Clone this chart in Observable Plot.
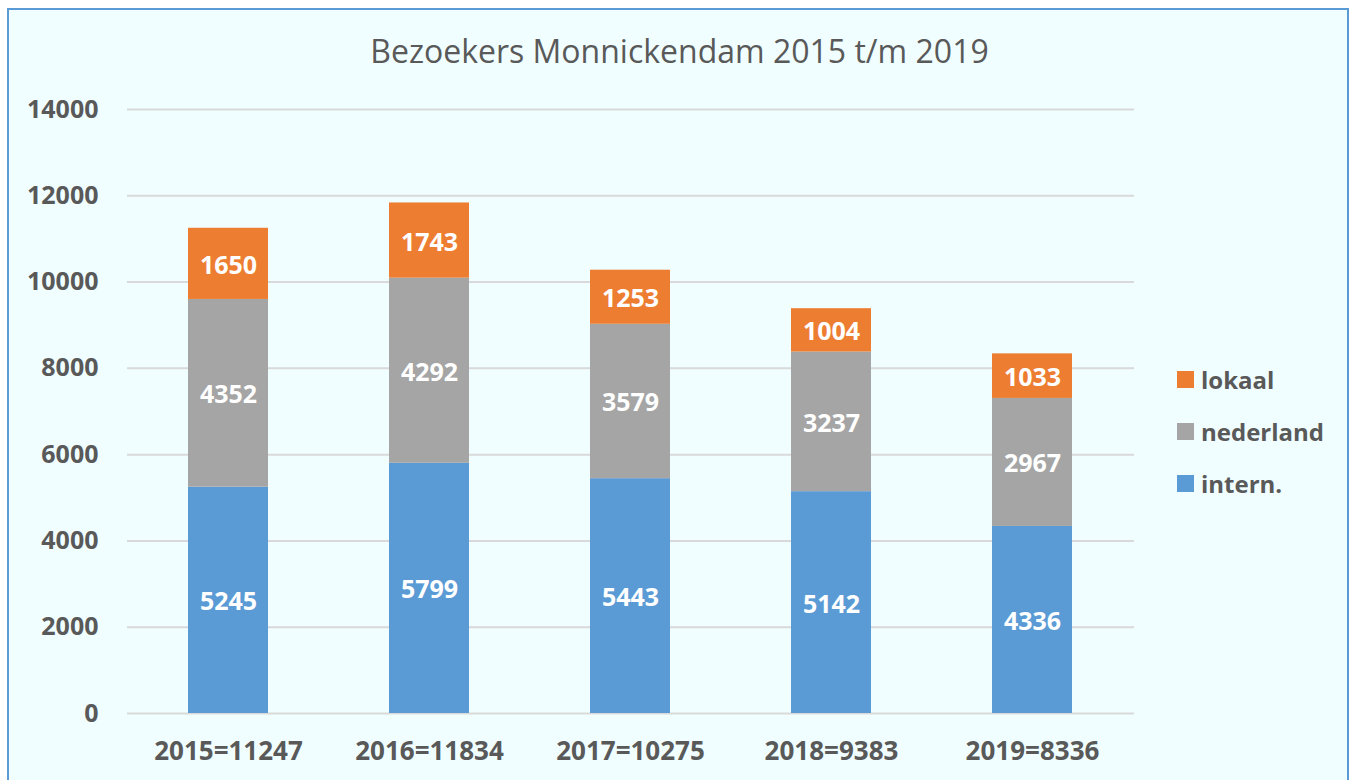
<!DOCTYPE html>
<html>
<head>
<meta charset="utf-8">
<script src="https://cdn.jsdelivr.net/npm/d3@7"></script>
<script src="https://cdn.jsdelivr.net/npm/@observablehq/plot@0.6"></script>
<style>
  html, body { margin: 0; padding: 0; background: #ffffff; width: 1354px; height: 780px; overflow: hidden; }
  #frame { position: absolute; left: 7px; top: 8px; width: 1342px; height: 800px;
           background: #f0feff; border: 2.5px solid #5b9bd5; box-sizing: border-box; }
  #title { position: absolute; left: 7px; width: 1345px; top: 29px; text-align: center;
           font-family: "Open Sans", sans-serif; font-size: 32px; color: #595959; line-height: 1.362; }
  #chart { position: absolute; left: 0; top: 0; }
  #legend { position: absolute; left: 1177px; top: 353px; font-family: "Open Sans", sans-serif;
            font-weight: bold; font-size: 24px; color: #595959; }
  .item { display: flex; align-items: center; height: 52px; }
  .sw { width: 17px; height: 17px; margin-right: 7px; }
</style>
</head>
<body>
<div id="frame"></div>
<div id="title">Bezoekers Monnickendam 2015 t/m 2019</div>
<div id="chart"></div>
<div id="legend"></div>
<script>
const years = ["2015", "2016", "2017", "2018", "2019"];
const totals = [11247, 11834, 10275, 9383, 8336];
const intern = [5245, 5799, 5443, 5142, 4336];
const nederland = [4352, 4292, 3579, 3237, 2967];
const lokaal = [1650, 1743, 1253, 1004, 1033];
const seriesNames = ["intern.", "nederland", "lokaal"];
const seriesColors = ["#5b9bd5", "#a5a5a5", "#ed7d31"];
const yTicks = [0, 2000, 4000, 6000, 8000, 10000, 12000, 14000];

const cats = years.map((y, i) => `${y}=${totals[i]}`);
const seriesValues = [intern, nederland, lokaal];
const rows = [];
cats.forEach((c, i) => {
  seriesNames.forEach((s, j) => rows.push({cat: c, series: s, value: seriesValues[j][i]}));
});

const font = "'Open Sans', sans-serif";
const chart = Plot.plot({
  width: 1354,
  height: 780,
  marginLeft: 127,
  marginRight: 220,
  marginTop: 109,
  marginBottom: 67,
  style: {background: "transparent", fontFamily: font},
  x: {domain: cats, paddingInner: 0.6, paddingOuter: 0.3, label: null},
  y: {domain: [0, 14000], label: null},
  color: {domain: seriesNames, range: seriesColors},
  marks: [
    Plot.ruleY(yTicks, {stroke: "#d9d9d9", strokeWidth: 2}),
    Plot.barY(rows, {x: "cat", y: "value", fill: "series", z: "series", order: seriesNames}),
    Plot.text(rows, Plot.stackY({x: "cat", y: "value", z: "series", order: seriesNames,
      text: d => String(d.value), fill: "white", fontWeight: "bold", fontSize: 25, dy: 2})),
    Plot.axisY({ticks: yTicks, tickSize: 0, tickPadding: 29, fontSize: 25, fontWeight: "bold",
      color: "#595959", tickFormat: d => String(d)}),
    Plot.axisX({tickSize: 0, tickPadding: 28, fontSize: 26, fontWeight: "bold", color: "#595959"})
  ]
});
document.getElementById("chart").appendChild(chart);

const legend = document.getElementById("legend");
["lokaal", "nederland", "intern."].forEach(name => {
  const idx = seriesNames.indexOf(name);
  const item = document.createElement("div");
  item.className = "item";
  item.innerHTML = `<div class="sw" style="background:${seriesColors[idx]}"></div><span>${name}</span>`;
  legend.appendChild(item);
});
</script>
</body>
</html>
